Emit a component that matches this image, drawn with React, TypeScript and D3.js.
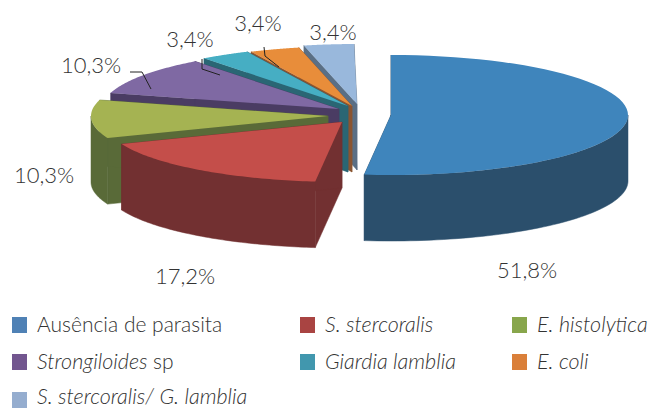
import React, { useEffect, useRef } from "react";
import * as d3 from "d3";

const categories = [
  "Ausência de parasita",
  "S. stercoralis",
  "E. histolytica",
  "Strongiloides sp",
  "Giardia lamblia",
  "E. coli",
  "S. stercoralis/ G. lamblia",
];
const values = [51.8, 17.2, 10.3, 10.3, 3.4, 3.4, 3.4];

// styling
const topColors = ["#3f85bc", "#c44e4a", "#a5b352", "#7f69a3", "#46aec3", "#e88d3a", "#99b8dc"];
const sideColors = ["#2b4f6c", "#723031", "#596a38", "#4a3c63", "#2a6674", "#8a5431", "#5a6f85"];
const legendColors = ["#4f81b5", "#a94442", "#88a64c", "#72568f", "#4197ae", "#da7f39", "#95adcf"];

// where each exploded slice has its apex
const apexes: [number, number][] = [
  [391, 115],
  [342, 122],
  [328, 116],
  [339, 109],
  [348, 106],
  [352, 106],
  [357, 104],
];
const labelPos: [number, number][] = [
  [527, 273],
  [185, 279],
  [44, 178],
  [91, 68],
  [190, 42],
  [258, 26],
  [333, 35],
];
const leaders: [number, number][][] = [
  [[130, 72], [142, 72], [151, 89]],
  [[202, 59], [202, 69], [220, 75]],
  [[264, 47], [265, 56], [279, 67]],
];
const legendX = [12, 300, 512];
const legendY = [325, 362, 397];

const RX = 237;
const RY = 60;
const DEPTH = 66;
const FONT = "Lato, 'Open Sans', sans-serif";

type Pt = [number, number];

export default function App() {
  const ref = useRef<SVGSVGElement>(null);

  useEffect(() => {
    const svg = d3.select(ref.current);
    svg.selectAll("*").remove();

    // the percentages add up to 99.8, keep each slice at its own share of 100
    const total = d3.sum(values);
    const arcs = d3
      .pie<number>()
      .sort(null)
      .endAngle((2 * Math.PI * total) / 100)(values);
    const line = d3.line();
    const pct = d3.formatLocale({
      decimal: ",",
      thousands: ".",
      grouping: [3],
      currency: ["", ""],
    }).format(".1f");

    const onRim = (i: number, a: number): Pt => [
      apexes[i][0] + RX * Math.sin(a),
      apexes[i][1] - RY * Math.cos(a),
    ];
    const rim = (i: number, a0: number, a1: number): Pt[] =>
      d3.range(0, 61).map((k) => onRim(i, a0 + ((a1 - a0) * k) / 60));
    const drop = (pts: Pt[]): Pt[] => pts.map(([x, y]) => [x, y + DEPTH] as Pt);

    // back slices first, the big blue one goes last
    const order = d3.range(values.length).slice(1).reverse().concat(0);

    order.forEach((i) => {
      const { startAngle, endAngle } = arcs[i];
      const g = svg.append("g");
      const side = sideColors[i];

      [startAngle, endAngle].forEach((a) => {
        const face: Pt[] = [apexes[i], onRim(i, a), ...drop([onRim(i, a), apexes[i]])];
        g.append("path")
          .attr("d", line(face) + "Z")
          .attr("fill", side)
          .attr("stroke", side)
          .attr("stroke-width", 0.5);
      });

      const a0 = Math.max(startAngle, Math.PI / 2);
      const a1 = Math.min(endAngle, (Math.PI * 3) / 2);
      if (a1 > a0) {
        const edge = rim(i, a0, a1);
        g.append("path")
          .attr("d", line([...edge, ...drop(edge).reverse()]) + "Z")
          .attr("fill", side)
          .attr("stroke", side)
          .attr("stroke-width", 0.5);
      }

      g.append("path")
        .attr("d", line([apexes[i], ...rim(i, startAngle, endAngle)]) + "Z")
        .attr("fill", topColors[i]);
    });

    svg
      .selectAll(".leader")
      .data(leaders)
      .join("path")
      .attr("class", "leader")
      .attr("d", (d) => line(d))
      .attr("fill", "none")
      .attr("stroke", "#222")
      .attr("stroke-width", 1);

    svg
      .selectAll(".val")
      .data(values)
      .join("text")
      .attr("class", "val")
      .attr("x", (_, i) => labelPos[i][0])
      .attr("y", (_, i) => labelPos[i][1])
      .attr("text-anchor", "middle")
      .attr("dominant-baseline", "middle")
      .attr("font-family", FONT)
      .attr("font-weight", 300)
      .attr("font-size", 22)
      .attr("fill", "#333")
      .text((d) => pct(d) + "%");

    const legend = svg
      .selectAll(".leg")
      .data(categories)
      .join("g")
      .attr("class", "leg")
      .attr(
        "transform",
        (_, i) => `translate(${legendX[i % 3]},${legendY[Math.floor(i / 3)]})`
      );
    legend
      .append("rect")
      .attr("y", (_, i) => (i === 6 ? -5 : -8))
      .attr("width", 15)
      .attr("height", 16)
      .attr("fill", (_, i) => legendColors[i]);
    const text = legend
      .append("text")
      .attr("x", 25)
      .attr("y", 7)
      .attr("font-family", FONT)
      .attr("font-weight", 300)
      .attr("font-size", 21)
      .attr("fill", "#333");
    text.each(function (d, i) {
      const t = d3.select(this);
      if (i === 0) t.text(d);
      else if (d.endsWith(" sp")) {
        t.append("tspan").attr("font-style", "italic").attr("font-size", 21.5).text(d.slice(0, -3));
        t.append("tspan").text(" sp");
      } else t.attr("font-style", "italic").attr("font-size", 21.5).text(d);
    });
  }, []);

  return (
    <svg
      ref={ref}
      width={648}
      height={410}
      style={{ position: "absolute", left: 0, top: 0, background: "#fff" }}
    />
  );
}
